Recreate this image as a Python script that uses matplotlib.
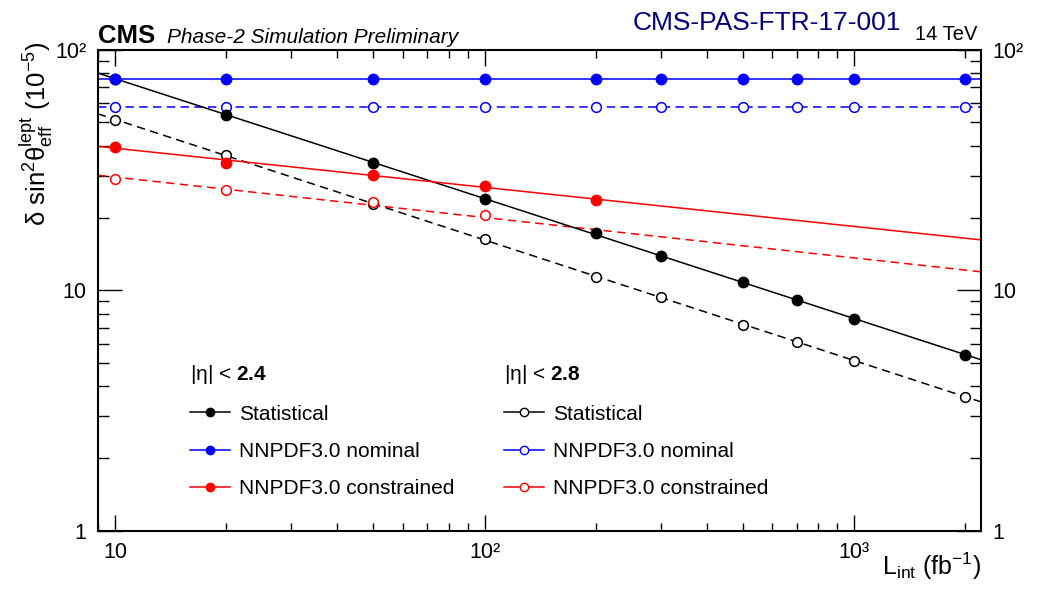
import numpy as np
import matplotlib.pyplot as plt
from matplotlib.lines import Line2D
from matplotlib.ticker import FixedLocator, LogLocator, NullFormatter, FixedFormatter

plt.rcParams['font.family'] = 'Liberation Sans'
plt.rcParams['mathtext.fontset'] = 'custom'
plt.rcParams['mathtext.rm'] = 'Liberation Sans'
plt.rcParams['mathtext.it'] = 'Liberation Sans:italic'
plt.rcParams['mathtext.bf'] = 'Liberation Sans:bold'

# %% datos: luminosidad integrada (fb^-1) e incertezas (10^-5)
lumi = np.array([10, 20, 50, 100, 200, 300, 500, 700, 1000, 2000])
lumi_pdf = np.array([10, 20, 50, 100, 200])

stat_24 = np.array([76.0, 53.7, 34.0, 24.0, 17.3, 13.9, 10.8, 9.12, 7.60, 5.39])
stat_28 = np.array([51.2, 36.6, 22.8, 16.3, 11.4, 9.41, 7.18, 6.12, 5.10, 3.61])
nominal_24 = 75.8
nominal_28 = 58.1
constr_24 = np.array([39.6, 34.0, 30.2, 27.2, 23.8])
constr_28 = np.array([29.1, 26.2, 23.4, 20.5, 17.3])

xticks = [10, 100, 1000]
xticklabels = ['10', '10²', '10³']
yticks = [1, 10, 100]
yticklabels = ['1', '10', '10²']

xmin, xmax = 8.98, 2206
ymin, ymax = 1, 100


# %% ajuste tipo ley de potencias (recta en log-log)
def ajuste(x, y, xx):
    p = np.polyfit(np.log10(x), np.log10(y), 1)
    return 10**np.polyval(p, np.log10(xx))


xx = np.geomspace(xmin, xmax, 200)
lw = 1.1
dash = (5.5, 3.5)

fig = plt.figure(figsize=(10.44, 5.97), dpi=100)
ax = fig.add_axes([0.0936, 0.1111, 0.8461, 0.8051])

# |eta| < 2.8 (abiertos, punteados)
ax.axhline(nominal_28, color='#0000ff', lw=lw, ls=(0, dash))
ax.plot(lumi, np.full(len(lumi), nominal_28), 'o', color='#0000ff', mfc='white', ms=7, mew=1.1)
ax.plot(xx, ajuste(lumi, stat_28, xx), color='black', lw=lw, ls=(0, dash))
ax.plot(lumi, stat_28, 'o', color='black', mfc='white', ms=7, mew=1.1)
ax.plot(xx, ajuste(lumi_pdf, constr_28, xx), color='#ff0000', lw=lw, ls=(0, dash))
ax.plot(lumi_pdf, constr_28, 'o', color='#ff0000', mfc='white', ms=7, mew=1.1)

# |eta| < 2.4 (llenos, continuos)
ax.plot(xx, ajuste(lumi, stat_24, xx), color='black', lw=lw)
ax.plot(lumi, stat_24, 'o', color='black', ms=7.5)
ax.axhline(nominal_24, color='#0000ff', lw=lw)
ax.plot(lumi, np.full(len(lumi), nominal_24), 'o', color='#0000ff', ms=7.5)
ax.plot(xx, ajuste(lumi_pdf, constr_24, xx), color='#ff0000', lw=lw)
ax.plot(lumi_pdf, constr_24, 'o', color='#ff0000', ms=7.5)

ax.set_xscale('log')
ax.set_yscale('log')
ax.set_xlim(xmin, xmax)
ax.set_ylim(ymin, ymax)

ax.xaxis.set_major_locator(FixedLocator(xticks))
ax.xaxis.set_major_formatter(FixedFormatter(xticklabels))
ax.yaxis.set_major_locator(FixedLocator(yticks))
ax.yaxis.set_major_formatter(FixedFormatter(yticklabels))
for eje in (ax.xaxis, ax.yaxis):
    eje.set_minor_locator(LogLocator(base=10, subs=np.arange(2, 10), numticks=20))
    eje.set_minor_formatter(NullFormatter())

for s in ax.spines.values():
    s.set_linewidth(1.5)
ax.tick_params(which='both', direction='in', top=True, right=True, labelright=True,
               labelsize=15.5, width=1.0)
ax.tick_params(axis='x', which='major', length=11.3, pad=8)
ax.tick_params(axis='x', which='minor', length=5.8)
ax.tick_params(axis='y', which='major', length=17.3, pad=8)
ax.tick_params(axis='y', which='minor', length=7.7)

# %% textos
fig.text(98/1044, 1-43/597, 'CMS', fontsize=18.5, fontweight='bold', va='baseline')
fig.text(167/1044, 1-43/597, 'Phase-2 Simulation Preliminary', fontsize=15,
         style='italic', va='baseline')
fig.text(633/1044, 1-30/597, 'CMS-PAS-FTR-17-001', fontsize=19, color='#000080', va='baseline')
fig.text(977/1044, 1-40/597, '14 TeV', fontsize=14.5, ha='right', va='baseline')

fig.text(36/1044, 1-41/597, r'$\mathrm{δ\ sin^{2}θ^{lept}_{eff}\ (10^{-5})}$',
         fontsize=18.5, rotation=90, ha='center', va='top')
fig.text(981/1044, 1-575/597, r'L$_{\rm int}$ (fb$^{-1}$)', fontsize=18,
         ha='right', va='baseline')

# %% leyendas
def entrada(color, lleno):
    return Line2D([], [], color=color, lw=lw, marker='o', ms=6,
                  mfc=color if lleno else 'white', mew=1.0)


etiquetas = ['Statistical', 'NNPDF3.0 nominal', 'NNPDF3.0 constrained']
colores = ['black', '#0000ff', '#ff0000']
opts = dict(loc='upper left', frameon=False, fontsize=15, title_fontsize=15,
            handlelength=1.92, handletextpad=0.43, labelspacing=0.88,
            borderpad=0, borderaxespad=0, alignment='left')
leg1 = ax.legend([entrada(c, True) for c in colores], etiquetas,
                 title=r'|η| < $\mathbf{2.4}$',
                 bbox_to_anchor=(0.1045, 0.348), **opts)
ax.add_artist(leg1)
leg2 = ax.legend([entrada(c, False) for c in colores], etiquetas,
                 title=r'|η| < $\mathbf{2.8}$',
                 bbox_to_anchor=(0.4597, 0.348), **opts)

plt.savefig('out.png', dpi=100)
